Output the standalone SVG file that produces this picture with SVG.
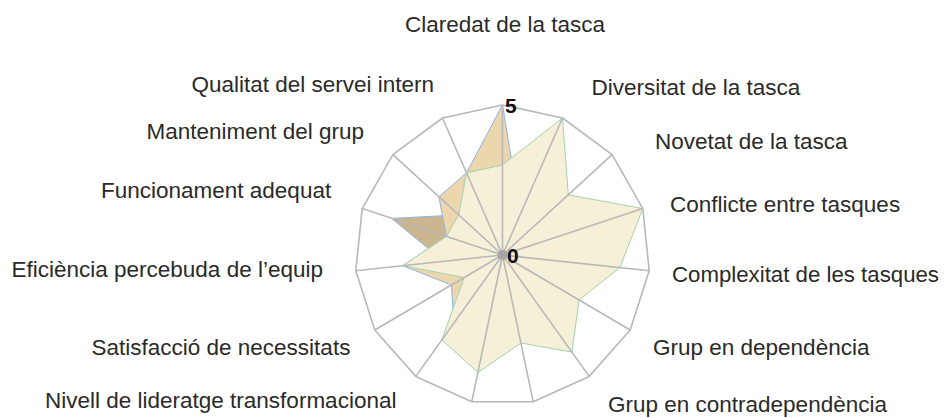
<svg xmlns="http://www.w3.org/2000/svg" width="946" height="418" viewBox="0 0 946 418">
<style>
.lbl{font-family:"Liberation Sans",Arial,sans-serif;font-size:22.5px;fill:#2a2a2a}
.num{font-family:"Liberation Sans",Arial,sans-serif;font-size:21px;font-weight:bold;fill:#111}
.grid{fill:none;stroke:#b8b8b8;stroke-width:1.6;stroke-linejoin:round}
.serB{fill:#cbb68f;stroke:#8fb4df;stroke-width:1}
.serA{fill:#ebd6ad;stroke:#8fb4df;stroke-width:1}
.serY{fill:#f6f0d8;stroke:#a3d3ad;stroke-width:1}
</style>
<rect width="946" height="418" fill="#ffffff"/>
<g id="series">
<polygon id="seriesB" class="serB" points="502.5,210 520.5,213.9 535.4,224.9 544.6,241.1 546.5,259.7 540.8,277.5 528.5,291.4 511.7,299 493.3,299 476.5,291.4 464.2,277.5 443.8,261.3 391.7,218.4 458.7,214.9 484.5,213.9"/>
<polygon id="seriesA" class="serA" points="502.5,105 520.5,213.9 546.3,214.9 558.6,236.5 561.2,261.3 553.6,285 537.2,303.5 514.8,313.7 490.2,313.7 453.9,323 451.4,285 402.8,265.7 446.4,236.5 438.9,196.8 466.5,172.8"/>
<polygon id="seriesY" class="serY" points="502.5,165 562.5,118 568.3,194.8 642.8,208.6 619.9,267.5 579.1,300 571.9,352.1 520.9,343 478,372.4 441.8,339.9 464.2,277.5 402.8,265.7 446.4,236.5 458.7,214.9 466.5,172.8"/>
</g>
<g id="grid">
<polygon class="grid" points="502.5,105 562.5,118 612.1,154.6 642.8,208.6 649.2,270.7 630.2,330 589.2,376.4 533.2,401.7 471.8,401.7 415.8,376.4 374.8,330 355.8,270.7 362.2,208.6 392.9,154.6 442.5,118"/>
<path class="grid" d="M502.5,255L502.5,105M502.5,255L562.5,118M502.5,255L612.1,154.6M502.5,255L642.8,208.6M502.5,255L649.2,270.7M502.5,255L630.2,330M502.5,255L589.2,376.4M502.5,255L533.2,401.7M502.5,255L471.8,401.7M502.5,255L415.8,376.4M502.5,255L374.8,330M502.5,255L355.8,270.7M502.5,255L362.2,208.6M502.5,255L392.9,154.6M502.5,255L442.5,118"/>
<circle cx="502.5" cy="255" r="5" fill="#a6a6a6"/>
<text class="num" x="505" y="113">5</text>
<text class="num" x="507" y="263">0</text>
</g>
<g id="labels">
<text id="l-claredat" class="lbl" x="405" y="32">Claredat de la tasca</text>
<text id="l-diversitat" class="lbl" x="591.5" y="95">Diversitat de la tasca</text>
<text id="l-novetat" class="lbl" x="655" y="148.5">Novetat de la tasca</text>
<text id="l-conflicte" class="lbl" x="670" y="211.5">Conflicte entre tasques</text>
<text id="l-complexitat" class="lbl" x="672" y="281.5" textLength="267" lengthAdjust="spacingAndGlyphs">Complexitat de les tasques</text>
<text id="l-dependencia" class="lbl" x="653" y="355">Grup en dependència</text>
<text id="l-contradependencia" class="lbl" x="608" y="412">Grup en contradependència</text>
<text id="l-lideratge" class="lbl" x="45" y="408">Nivell de lideratge transformacional</text>
<text id="l-satisfaccio" class="lbl" x="91.5" y="355">Satisfacció de necessitats</text>
<text id="l-eficiencia" class="lbl" x="11.5" y="276.5">Eficiència percebuda de l’equip</text>
<text id="l-funcionament" class="lbl" x="101" y="198">Funcionament adequat</text>
<text id="l-manteniment" class="lbl" x="146.5" y="138.5">Manteniment del grup</text>
<text id="l-qualitat" class="lbl" x="191.5" y="91.5">Qualitat del servei intern</text>
</g>
</svg>
